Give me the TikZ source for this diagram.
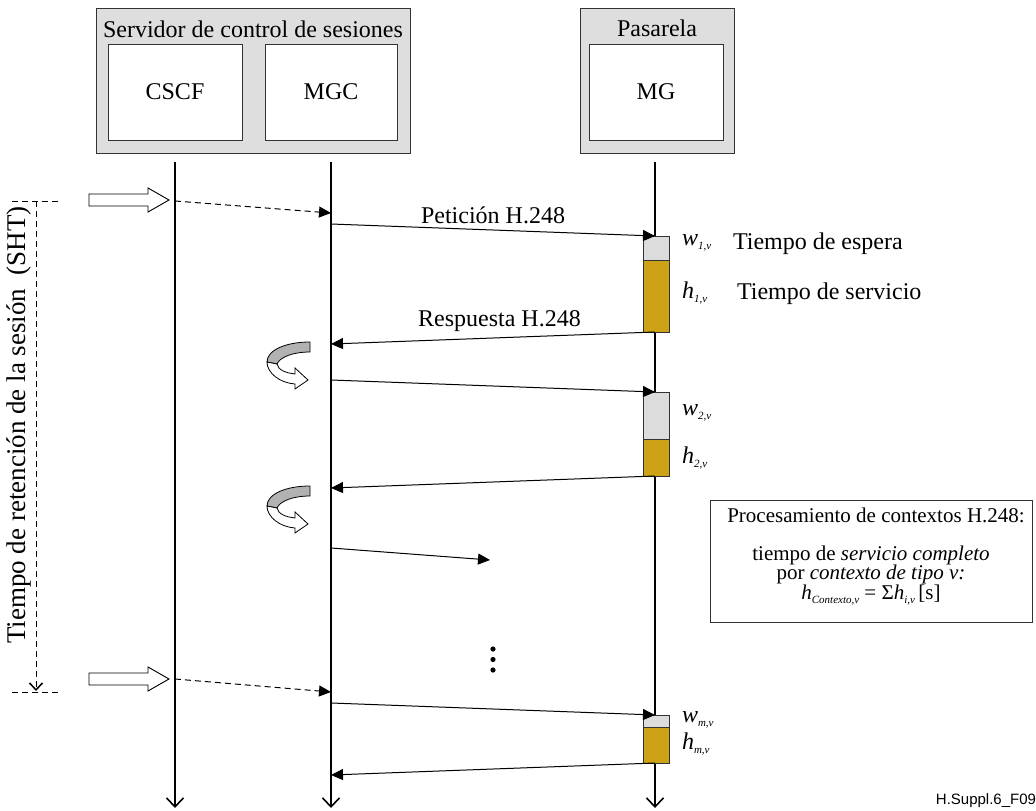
\documentclass[tikz,border=0pt]{standalone}
\usepackage{fontspec}
\setmainfont{Liberation Serif}
\newfontfamily\arialf{Liberation Sans}
\usetikzlibrary{arrows.meta}
\definecolor{boxgray}{HTML}{DEDEDE}
\definecolor{goldbar}{HTML}{CDA217}
\definecolor{lgray}{HTML}{DCDCDC}
\newcommand{\mysub}[1]{\raisebox{-3.5pt}{\fontsize{11}{11}\selectfont #1}}
\tikzset{
  inarrow/.pic={\draw[line width=0.9pt, fill=white] (-80,-6) -- (-21,-6) -- (-21,-12) -- (0,0) -- (-21,12) -- (-21,6) -- (-80,6) -- cycle;},
  curl/.pic={
    \draw[line width=0.8pt, fill=black!30] (2,0) .. controls (-22,0) and (-41,8) .. (-41,20) -- (-31,22) .. controls (-28,15) and (-15,10) .. (2,10) -- cycle;
    \draw[line width=0.8pt, fill=white] (-41,20) .. controls (-41,31) and (-28,41) .. (-13,42) -- (-13,47) -- (0,38) -- (-13,26) -- (-13,32) .. controls (-22,31) and (-30,28) .. (-31,22) -- cycle;}
}
\begin{document}
\begin{tikzpicture}[x=1pt,y=-1pt,
  every node/.style={inner sep=0pt, outer sep=0pt},
  big/.style={font=\fontsize{24}{28}\selectfont},
  mid/.style={font=\fontsize{21}{25}\selectfont},
  frame/.style={draw=black!80, line width=1pt, fill=boxgray, anchor=north west},
  ent/.style={draw=black!80, line width=1pt, fill=white, anchor=north west, big},
  lifeline/.style={line width=1.1pt, -{Straight Barb[length=9pt,width=17pt,line width=1.6pt]}},
  msg/.style={line width=1pt, -{Triangle[length=12pt,width=11pt]}},
  dmsg/.style={msg, dash pattern=on 6pt off 4pt},
  wbar/.style={draw=black!80, line width=0.8pt, fill=lgray, anchor=north west, minimum width=26pt},
  hbar/.style={draw=black!80, line width=0.8pt, fill=goldbar, anchor=north west, minimum width=26pt},
  shtline/.style={line width=1pt, dash pattern=on 6pt off 4pt},
]
\useasboundingbox (0,0) rectangle (1036,811);

% header boxes
\node[frame, minimum width=314pt, minimum height=145pt] (srv) at (96,8) {};
\node[big] (srvt) at (253,29) {Servidor de control de sesiones};
\node[ent, minimum width=134pt, minimum height=96pt] (cscf) at (108,44) {CSCF};
\node[ent, minimum width=132pt, minimum height=96pt] (mgc) at (265,44) {MGC};
\node[frame, minimum width=154pt, minimum height=145pt] (pas) at (580,8) {};
\node[big] (past) at (657,28) {Pasarela};
\node[ent, minimum width=134pt, minimum height=96pt] (mg) at (589,44) {MG};

% lifelines
\coordinate (cT) at (175,162); \coordinate (cB) at (175,808);
\coordinate (gT) at (331,162); \coordinate (gB) at (331,808);
\coordinate (mT) at (655,162); \coordinate (mB) at (655,808);
\draw[lifeline] (cT) -- (cB);
\draw[lifeline] (gT) -- (gB);
\draw[lifeline] (mT) -- (mB);

% SHT bracket
\coordinate (s1a) at (12,201); \coordinate (s1b) at (60,201);
\coordinate (s2a) at (12,692); \coordinate (s2b) at (60,692);
\coordinate (sv1) at (36,201); \coordinate (sv2) at (36,691);
\draw[shtline] (s1a) -- (s1b);
\draw[shtline] (s2a) -- (s2b);
\draw[shtline, -{Straight Barb[length=7pt,width=13pt,line width=1.5pt]}] (sv1) -- (sv2);
\node[font=\fontsize{27}{31}\selectfont, rotate=90] (shtt) at (19,425) {Tiempo de retención de la sesión\ \ (SHT)};

% incoming triggers
\pic at (169,200) {inarrow};
\pic at (169,679) {inarrow};
\coordinate (t1a) at (175,201); \coordinate (t1b) at (331,213);
\coordinate (t2a) at (175,679); \coordinate (t2b) at (331,692);
\draw[dmsg] (t1a) -- (t1b);
\draw[dmsg] (t2a) -- (t2b);

% bars
\node[wbar, minimum height=24pt] (w1) at (643,236) {};
\node[hbar, minimum height=72pt] (h1) at (643,260) {};
\node[wbar, minimum height=47pt] (w2) at (643,392) {};
\node[hbar, minimum height=37pt] (h2) at (643,439) {};
\node[wbar, minimum height=12pt] (w3) at (643,715) {};
\node[hbar, minimum height=36pt] (h3) at (643,727) {};

% messages
\coordinate (a1) at (331,224); \coordinate (b1) at (655,236);
\coordinate (a2) at (655,332); \coordinate (b2) at (331,344);
\coordinate (a3) at (331,380); \coordinate (b3) at (655,392);
\coordinate (a4) at (655,476); \coordinate (b4) at (331,488);
\coordinate (a5) at (331,548); \coordinate (b5) at (490,560);
\coordinate (a6) at (331,703); \coordinate (b6) at (655,715);
\coordinate (a7) at (655,763); \coordinate (b7) at (331,775);
\draw[msg] (a1) -- node[big, above=6pt, pos=0.5] (l1) {Petición H.248} (b1);
\draw[msg] (a2) -- node[big, above=6pt, pos=0.48] (l2) {Respuesta H.248} (b2);
\draw[msg] (a3) -- (b3);
\draw[msg] (a4) -- (b4);
\draw[msg] (a5) -- (b5);
\draw[msg] (a6) -- (b6);
\draw[msg] (a7) -- (b7);

% curls
\pic at (308,342) {curl};
\pic at (308,486) {curl};

% dots
\fill (493,649) circle (2.6pt);
\fill (493,659.5) circle (2.6pt);
\fill (493,670) circle (2.6pt);

% labels
\node[big, anchor=west] (lw1) at (682,243) {\itshape w\mysub{1,v}};
\node[big, anchor=west] (lh1) at (682,293) {\itshape h\mysub{1,v}};
\node[big, anchor=west] (te) at (733,244) {Tiempo de espera};
\node[big, anchor=west] (ts) at (737,294) {Tiempo de servicio};
\node[big, anchor=west] (lw2) at (682,413) {\itshape w\mysub{2,v}};
\node[big, anchor=west] (lh2) at (682,458) {\itshape h\mysub{2,v}};
\node[big, anchor=west] (lw3) at (682,720) {\itshape w\mysub{m,v}};
\node[big, anchor=west] (lh3) at (682,744) {\itshape h\mysub{m,v}};

% info box
\node[draw=black!80, line width=1pt, minimum width=322pt, minimum height=122pt, anchor=north west] (info) at (710,500) {};
\node[mid] (i1) at (876,515) {Procesamiento de contextos H.248:};
\node[mid] (i2) at (871,555) {tiempo de \textit{servicio completo}};
\node[mid] (i3) at (871,574) {por \textit{contexto de tipo v:}};
\node[mid] (i4) at (871,595) {\textit{h}\mysub{\itshape Contexto,v} = Σ\textit{h}\mysub{\itshape i,v}\,[s]};

\node[font=\arialf\fontsize{15}{17}\selectfont, anchor=east] (fig) at (1036,801) {H.Suppl.6\_F09};
\end{tikzpicture}
\end{document}
